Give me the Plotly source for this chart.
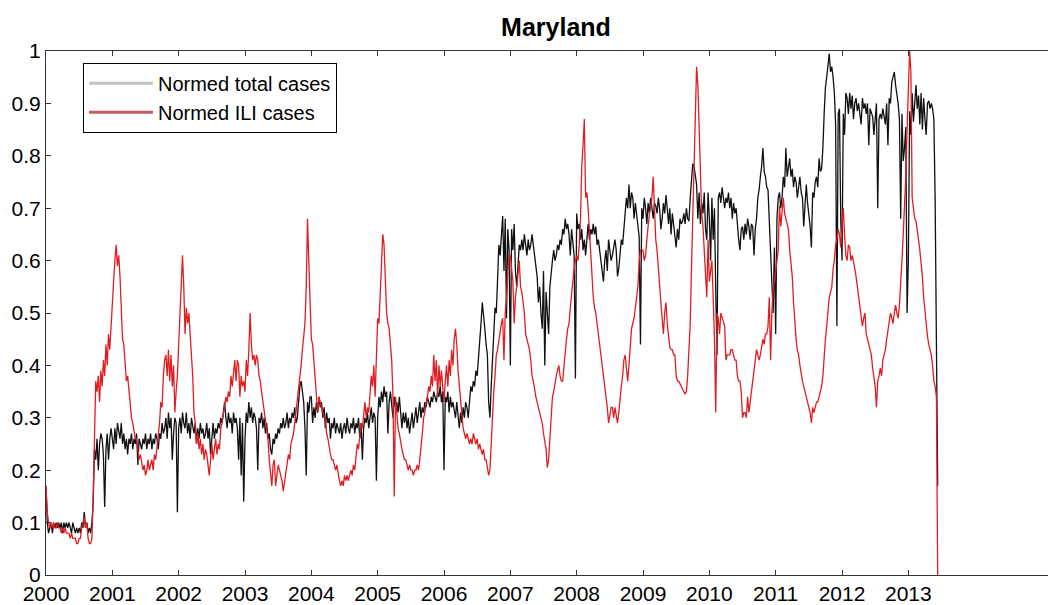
import plotly.graph_objects as go

# Weekly normed values, one list per year (week k of year y plotted at y + k/52)
total_2000 = [0.17,0.10,0.08,0.09,0.10,0.08,0.10,0.09,0.10,0.09, 0.10,0.09,0.10,0.08,0.10,0.09,0.10,0.09,0.10,0.09,
              0.08,0.10,0.09,0.08,0.09,0.08,0.09,0.08,0.10,0.09, 0.12,0.09,0.10,0.08,0.09,0.08,0.10,0.14,0.24,0.22,
              0.26,0.20,0.25,0.27,0.26,0.23,0.13,0.24,0.27,0.22, 0.26,0.28]
ili_2000 = [0.17,0.12,0.10,0.09,0.10,0.09,0.10,0.09,0.09,0.10, 0.09,0.09,0.08,0.09,0.08,0.09,0.08,0.08,0.08,0.07,
            0.08,0.07,0.07,0.07,0.06,0.06,0.07,0.07,0.09,0.10, 0.11,0.09,0.10,0.07,0.06,0.06,0.07,0.15,0.30,0.37,
            0.35,0.38,0.33,0.39,0.36,0.41,0.38,0.44,0.40,0.46, 0.43,0.48]
total_2001 = [0.26,0.24,0.28,0.25,0.29,0.27,0.26,0.29,0.25,0.27, 0.24,0.26,0.23,0.26,0.25,0.27,0.24,0.26,0.25,0.27,
              0.21,0.26,0.25,0.24,0.26,0.25,0.27,0.24,0.26,0.25, 0.27,0.24,0.26,0.25,0.27,0.26,0.24,0.27,0.26,0.29,
              0.27,0.28,0.30,0.26,0.31,0.28,0.30,0.22,0.27,0.30, 0.29,0.12]
ili_2001 = [0.52,0.56,0.60,0.63,0.59,0.61,0.57,0.50,0.45,0.44, 0.40,0.37,0.38,0.35,0.32,0.30,0.29,0.27,0.26,0.26,
            0.24,0.22,0.23,0.21,0.20,0.21,0.19,0.20,0.22,0.20, 0.21,0.22,0.20,0.23,0.22,0.24,0.27,0.29,0.33,0.32,
            0.38,0.41,0.42,0.38,0.43,0.37,0.42,0.36,0.40,0.31, 0.35,0.38]
total_2002 = [0.28,0.30,0.27,0.31,0.29,0.28,0.31,0.27,0.29,0.26, 0.30,0.28,0.27,0.29,0.25,0.28,0.26,0.29,0.27,0.28,
              0.26,0.27,0.29,0.26,0.28,0.23,0.27,0.29,0.26,0.28, 0.27,0.29,0.28,0.30,0.29,0.31,0.33,0.30,0.28,0.31,
              0.29,0.30,0.27,0.31,0.29,0.30,0.28,0.22,0.30,0.19, 0.29,0.14]
ili_2002 = [0.44,0.50,0.56,0.61,0.55,0.46,0.51,0.48,0.50,0.46, 0.44,0.38,0.31,0.29,0.25,0.27,0.24,0.26,0.23,0.25,
            0.22,0.24,0.23,0.21,0.19,0.22,0.25,0.22,0.24,0.26, 0.23,0.25,0.24,0.28,0.29,0.31,0.33,0.34,0.33,0.35,
            0.34,0.38,0.36,0.39,0.41,0.37,0.41,0.40,0.34,0.38, 0.36,0.37]
total_2003 = [0.26,0.31,0.29,0.33,0.30,0.32,0.29,0.31,0.30,0.28, 0.20,0.30,0.29,0.31,0.28,0.30,0.27,0.29,0.26,0.27,
              0.24,0.23,0.26,0.25,0.27,0.26,0.28,0.27,0.29,0.28, 0.30,0.28,0.29,0.31,0.28,0.30,0.29,0.31,0.30,0.32,
              0.29,0.30,0.34,0.36,0.37,0.35,0.33,0.28,0.19,0.33, 0.31,0.34]
ili_2003 = [0.35,0.41,0.38,0.43,0.50,0.44,0.41,0.42,0.40,0.42, 0.41,0.38,0.37,0.35,0.33,0.31,0.29,0.27,0.26,0.22,
            0.20,0.17,0.21,0.22,0.17,0.19,0.21,0.20,0.19,0.18, 0.16,0.18,0.19,0.21,0.23,0.22,0.25,0.26,0.27,0.29,
            0.31,0.34,0.35,0.38,0.40,0.43,0.46,0.48,0.55,0.68, 0.60,0.50]
total_2004 = [0.34,0.29,0.32,0.30,0.33,0.31,0.34,0.32,0.33,0.30, 0.32,0.28,0.31,0.29,0.30,0.26,0.29,0.28,0.30,0.27,
              0.29,0.28,0.27,0.29,0.26,0.28,0.29,0.27,0.30,0.28, 0.27,0.29,0.28,0.30,0.27,0.29,0.28,0.30,0.26,0.29,
              0.22,0.28,0.30,0.29,0.31,0.28,0.30,0.32,0.29,0.31, 0.30,0.18]
ili_2004 = [0.45,0.44,0.41,0.37,0.35,0.31,0.34,0.33,0.32,0.31, 0.30,0.30,0.27,0.26,0.24,0.23,0.22,0.22,0.21,0.20,
            0.21,0.19,0.18,0.17,0.18,0.17,0.19,0.18,0.19,0.18, 0.19,0.20,0.19,0.21,0.20,0.23,0.25,0.24,0.27,0.29,
            0.28,0.31,0.33,0.30,0.32,0.31,0.35,0.38,0.36,0.40, 0.34,0.44]
total_2005 = [0.30,0.34,0.32,0.35,0.33,0.36,0.34,0.35,0.27,0.33, 0.35,0.33,0.30,0.34,0.32,0.33,0.31,0.34,0.30,0.28,
              0.31,0.29,0.31,0.28,0.30,0.27,0.29,0.31,0.28,0.30, 0.32,0.29,0.31,0.33,0.30,0.32,0.31,0.33,0.32,0.34,
              0.33,0.32,0.34,0.33,0.35,0.34,0.33,0.35,0.34,0.36, 0.33,0.35]
ili_2005 = [0.49,0.48,0.53,0.60,0.65,0.63,0.56,0.50,0.48,0.47, 0.44,0.41,0.34,0.15,0.34,0.31,0.28,0.27,0.25,0.24,
            0.23,0.22,0.22,0.21,0.20,0.21,0.20,0.20,0.19,0.20, 0.20,0.21,0.20,0.22,0.24,0.27,0.30,0.31,0.33,0.34,
            0.36,0.35,0.38,0.36,0.42,0.37,0.41,0.34,0.40,0.36, 0.39,0.36]
total_2006 = [0.20,0.34,0.33,0.35,0.31,0.34,0.32,0.33,0.31,0.30, 0.33,0.30,0.28,0.31,0.29,0.32,0.30,0.33,0.32,0.30,
              0.34,0.36,0.35,0.37,0.36,0.39,0.38,0.41,0.45,0.48, 0.52,0.50,0.47,0.44,0.42,0.33,0.30,0.36,0.42,0.46,
              0.51,0.50,0.56,0.63,0.61,0.65,0.685,0.58,0.68,0.49, 0.66,0.62]
ili_2006 = [0.33,0.37,0.40,0.36,0.41,0.38,0.43,0.40,0.45,0.47, 0.44,0.39,0.36,0.34,0.31,0.28,0.27,0.26,0.27,0.26,
            0.25,0.26,0.25,0.27,0.26,0.25,0.26,0.24,0.25,0.24, 0.23,0.24,0.22,0.22,0.20,0.19,0.20,0.26,0.31,0.35,
            0.38,0.42,0.43,0.45,0.46,0.48,0.49,0.41,0.50,0.53, 0.58,0.61]
total_2007 = [0.40,0.66,0.62,0.67,0.58,0.55,0.60,0.63,0.62,0.64, 0.62,0.65,0.63,0.61,0.64,0.62,0.63,0.65,0.63,0.61,
              0.60,0.57,0.52,0.55,0.50,0.47,0.58,0.40,0.54,0.49, 0.46,0.55,0.58,0.60,0.62,0.60,0.61,0.63,0.62,0.64,
              0.63,0.66,0.65,0.68,0.66,0.67,0.65,0.61,0.66,0.64, 0.61,0.375]
ili_2007 = [0.61,0.59,0.56,0.48,0.53,0.55,0.57,0.60,0.55,0.54, 0.52,0.50,0.46,0.45,0.44,0.43,0.41,0.38,0.37,0.35,
            0.34,0.33,0.32,0.31,0.30,0.29,0.27,0.25,0.24,0.205, 0.22,0.26,0.30,0.34,0.35,0.37,0.38,0.39,0.40,0.38,
            0.37,0.37,0.40,0.42,0.45,0.47,0.48,0.51,0.54,0.56, 0.585,0.60]
total_2008 = [0.69,0.66,0.67,0.64,0.66,0.62,0.64,0.61,0.65,0.67, 0.64,0.66,0.65,0.67,0.65,0.665,0.63,0.64,0.62,0.60,
              0.585,0.56,0.60,0.62,0.58,0.64,0.62,0.60,0.61,0.63, 0.64,0.62,0.57,0.585,0.62,0.64,0.63,0.665,0.685,0.72,
              0.70,0.745,0.70,0.73,0.72,0.68,0.71,0.69,0.66,0.645, 0.44,0.70]
ili_2008 = [0.61,0.60,0.63,0.68,0.78,0.82,0.87,0.72,0.73,0.70, 0.66,0.61,0.56,0.53,0.51,0.50,0.48,0.46,0.44,0.42,
            0.41,0.39,0.37,0.35,0.32,0.29,0.31,0.32,0.32,0.30, 0.32,0.30,0.29,0.31,0.34,0.36,0.38,0.41,0.42,0.39,
            0.37,0.40,0.44,0.47,0.48,0.49,0.51,0.53,0.55,0.60, 0.62,0.62]
total_2009 = [0.68,0.72,0.70,0.67,0.71,0.69,0.72,0.70,0.68,0.71, 0.705,0.69,0.72,0.70,0.66,0.68,0.71,0.69,0.725,0.70,
              0.67,0.70,0.65,0.69,0.67,0.64,0.625,0.66,0.64,0.68, 0.67,0.675,0.69,0.67,0.70,0.68,0.675,0.72,0.76,0.785,
              0.78,0.76,0.745,0.68,0.73,0.67,0.71,0.69,0.73,0.66, 0.64,0.73]
ili_2009 = [0.62,0.60,0.61,0.64,0.665,0.69,0.70,0.72,0.76,0.69, 0.64,0.62,0.58,0.545,0.52,0.49,0.46,0.50,0.52,0.48,
            0.46,0.435,0.43,0.43,0.42,0.42,0.38,0.37,0.37,0.365, 0.36,0.355,0.35,0.345,0.35,0.38,0.43,0.48,0.585,0.68,
            0.76,0.87,0.97,0.935,0.85,0.78,0.69,0.665,0.61,0.58, 0.53,0.64]
total_2010 = [0.68,0.60,0.72,0.64,0.70,0.545,0.42,0.72,0.73,0.71, 0.74,0.72,0.70,0.72,0.71,0.73,0.70,0.72,0.68,0.71,
              0.69,0.70,0.665,0.64,0.62,0.66,0.665,0.64,0.67,0.65, 0.68,0.665,0.64,0.67,0.665,0.61,0.66,0.68,0.72,0.735,
              0.76,0.78,0.815,0.77,0.76,0.74,0.735,0.68,0.61,0.58, 0.50,0.625]
ili_2010 = [0.56,0.58,0.60,0.53,0.45,0.31,0.50,0.49,0.46,0.50, 0.49,0.48,0.475,0.41,0.42,0.42,0.42,0.43,0.43,0.42,
            0.41,0.41,0.38,0.37,0.37,0.35,0.30,0.31,0.31,0.30, 0.34,0.31,0.33,0.355,0.37,0.39,0.41,0.43,0.42,0.41,
            0.42,0.44,0.45,0.44,0.46,0.46,0.475,0.53,0.41,0.50, 0.545,0.56]
total_2011 = [0.46,0.68,0.72,0.73,0.70,0.72,0.76,0.74,0.815,0.76, 0.78,0.795,0.76,0.775,0.74,0.76,0.75,0.72,0.74,0.76,
              0.73,0.72,0.665,0.70,0.745,0.71,0.69,0.665,0.625,0.73, 0.72,0.75,0.76,0.74,0.795,0.77,0.775,0.815,0.88,0.93,
              0.95,0.975,0.995,0.96,0.97,0.95,0.92,0.86,0.475,0.88, 0.89,0.68]
ili_2011 = [0.585,0.60,0.62,0.705,0.665,0.70,0.72,0.69,0.68,0.67, 0.66,0.62,0.60,0.57,0.52,0.48,0.45,0.43,0.42,0.40,
            0.38,0.37,0.36,0.35,0.34,0.33,0.32,0.31,0.29,0.32, 0.31,0.32,0.33,0.33,0.34,0.35,0.36,0.38,0.42,0.45,
            0.475,0.50,0.53,0.54,0.55,0.585,0.60,0.63,0.64,0.66, 0.65,0.625]
total_2012 = [0.60,0.88,0.84,0.92,0.91,0.88,0.92,0.89,0.915,0.87, 0.90,0.91,0.885,0.90,0.88,0.86,0.91,0.89,0.90,0.88,
              0.90,0.82,0.89,0.88,0.875,0.84,0.88,0.90,0.70,0.87, 0.88,0.87,0.89,0.875,0.86,0.90,0.82,0.91,0.90,0.94,
              0.95,0.96,0.935,0.92,0.90,0.87,0.68,0.88,0.79,0.815, 0.855,0.50]
ili_2012 = [0.66,0.70,0.65,0.61,0.60,0.63,0.625,0.60,0.61,0.60, 0.585,0.57,0.55,0.53,0.52,0.50,0.475,0.49,0.50,0.46,
            0.45,0.44,0.435,0.42,0.395,0.38,0.36,0.32,0.37,0.38, 0.395,0.38,0.41,0.42,0.43,0.45,0.47,0.49,0.50,0.49,
            0.48,0.50,0.515,0.50,0.49,0.515,0.55,0.60,0.65,0.70, 0.76,0.85]
total_2013 = [0.60,0.885,0.84,0.92,0.865,0.90,0.935,0.89,0.915,0.86, 0.92,0.85,0.91,0.87,0.84,0.90,0.905,0.89,0.90,0.89,
              0.87,0.72,0.36,0.17]
ili_2013 = [0.93,1.0,0.96,0.72,0.70,0.68,0.675,0.66,0.64,0.62, 0.60,0.57,0.53,0.50,0.48,0.455,0.44,0.43,0.42,0.40,
            0.37,0.36,0.34,0.0]

years = list(range(2000, 2014))
total_by_year = [total_2000, total_2001, total_2002, total_2003, total_2004, total_2005, total_2006,
                 total_2007, total_2008, total_2009, total_2010, total_2011, total_2012, total_2013]
ili_by_year = [ili_2000, ili_2001, ili_2002, ili_2003, ili_2004, ili_2005, ili_2006,
               ili_2007, ili_2008, ili_2009, ili_2010, ili_2011, ili_2012, ili_2013]

x_tick_labels = [str(y) for y in range(2000, 2014)]
y_tick_vals = [0, 0.1, 0.2, 0.3, 0.4, 0.5, 0.6, 0.7, 0.8, 0.9, 1]
y_tick_labels = ["0", "0.1", "0.2", "0.3", "0.4", "0.5", "0.6", "0.7", "0.8", "0.9", "1"]


def flatten(by_year):
    xs, ys = [], []
    for yr, vals in zip(years, by_year):
        for k, v in enumerate(vals):
            xs.append(yr + k / 52.0)
            ys.append(v)
    return xs, ys


tx, ty = flatten(total_by_year)
ix, iy = flatten(ili_by_year)

FONT = "Liberation Sans, Arial, Helvetica, sans-serif"

# The page body adds an 8px offset, so the figure is 8px smaller on each axis
W, H = 1048, 597
PL, PT, PB = 38, 43, 24          # plot area: left, top, bottom margins
PW = W - PL                      # plot width (right margin 0)
PH = H - PT - PB

fig = go.Figure()
fig.add_trace(go.Scatter(x=tx, y=ty, mode="lines", line=dict(color="#111111", width=1.3),
                         showlegend=False, hoverinfo="skip"))
fig.add_trace(go.Scatter(x=ix, y=iy, mode="lines", line=dict(color="#e01e22", width=1.3),
                         showlegend=False, hoverinfo="skip"))
# legend samples
fig.add_trace(go.Scatter(x=[None], y=[None], mode="lines", name="Normed total cases",
                         line=dict(color="#c4c4c4", width=3)))
fig.add_trace(go.Scatter(x=[None], y=[None], mode="lines", name="Normed ILI cases",
                         line=dict(color="#c45a64", width=3)))

axis_common = dict(showgrid=False, zeroline=False, showline=True, linecolor="#333333", linewidth=1,
                   ticks="inside", ticklen=5, tickcolor="#333333", mirror="ticks",
                   tickfont=dict(family=FONT, size=21, color="black"))

fig.update_layout(
    width=W, height=H,
    margin=dict(l=PL, r=0, t=PT, b=PB, pad=0),
    paper_bgcolor="white", plot_bgcolor="white",
    font=dict(family=FONT, size=20, color="black"),
    title=dict(text="<b>Maryland</b>", xref="container", x=548 / W, xanchor="center",
               yref="container", y=1 - 19 / H, yanchor="middle",
               font=dict(family=FONT, size=25, color="black")),
    xaxis=dict(range=[2000, 2000 + PW / 66.4], tickvals=years, ticktext=x_tick_labels, **axis_common),
    yaxis=dict(range=[0, 1], tickvals=y_tick_vals, ticktext=y_tick_labels, **axis_common),
    legend=dict(x=(75 - PL) / PW, y=1 - (55 - PT) / PH, xanchor="left", yanchor="top",
                bgcolor="white", bordercolor="black", borderwidth=1, itemwidth=64,
                font=dict(family=FONT, size=20, color="black"), tracegroupgap=0),
)

fig.write_html("out.html")
